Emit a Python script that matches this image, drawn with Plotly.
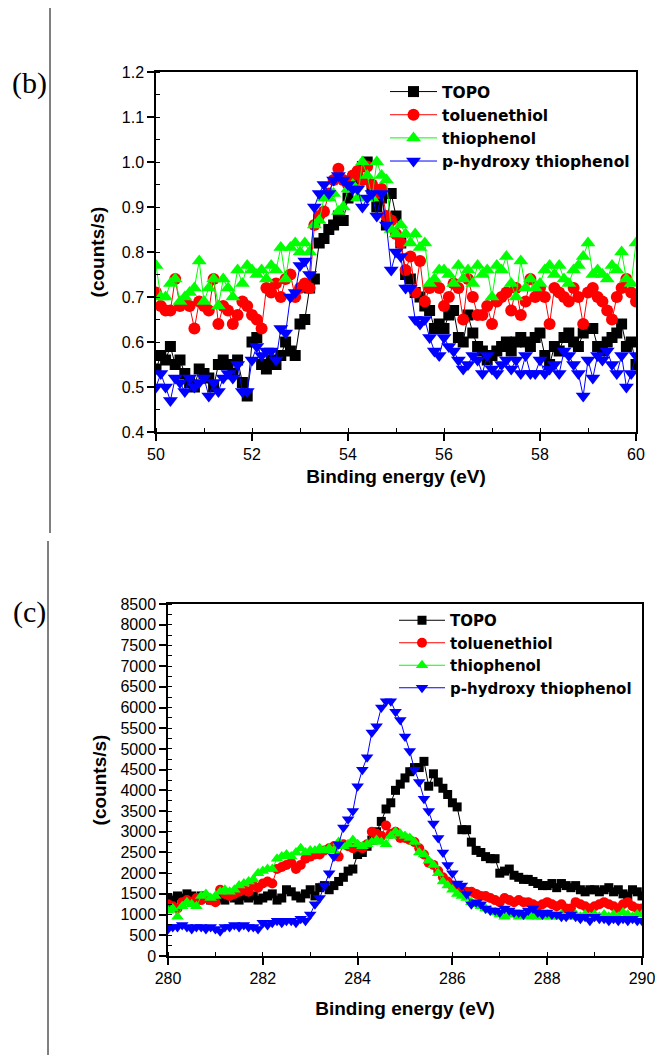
import numpy as np
import plotly.graph_objects as go

# ---------- panel (b) data: binding energy 50-60 eV ----------
energy_b = np.round(np.linspace(50.0, 60.0, 101), 1)

topo_b = [0.54, 0.57, 0.56, 0.59, 0.55, 0.56, 0.53, 0.51, 0.50, 0.54,
          0.53, 0.52, 0.50, 0.55, 0.56, 0.55, 0.53, 0.56, 0.51, 0.48,
          0.60, 0.61, 0.55, 0.54, 0.56, 0.55, 0.57, 0.60, 0.58, 0.57,
          0.64, 0.65, 0.72, 0.74, 0.82, 0.83, 0.85, 0.86, 0.88, 0.87,
          0.92, 0.95, 0.97, 0.99, 1.00, 0.94, 0.90, 0.92, 0.86, 0.93,
          0.88, 0.82, 0.75, 0.74, 0.71, 0.70, 0.68, 0.67, 0.63, 0.64,
          0.63, 0.66, 0.67, 0.61, 0.60, 0.66, 0.62, 0.59, 0.58, 0.56,
          0.57, 0.58, 0.59, 0.60, 0.58, 0.60, 0.61, 0.60, 0.59, 0.61,
          0.62, 0.57, 0.55, 0.59, 0.58, 0.61, 0.62, 0.60, 0.59, 0.62,
          0.63, 0.63, 0.59, 0.58, 0.60, 0.61, 0.62, 0.64, 0.59, 0.60,
          0.55]
toluene_b = [0.71, 0.68, 0.67, 0.67, 0.74, 0.68, 0.69, 0.68, 0.63, 0.69,
             0.68, 0.67, 0.74, 0.64, 0.68, 0.67, 0.64, 0.66, 0.69, 0.68,
             0.66, 0.65, 0.63, 0.72, 0.71, 0.73, 0.70, 0.74, 0.75, 0.70,
             0.72, 0.73, 0.72, 0.86, 0.88, 0.89, 0.93, 0.96, 0.985, 0.96,
             0.95, 0.97, 0.98, 0.96, 0.99, 0.95, 0.93, 0.94, 0.88, 0.87,
             0.84, 0.82, 0.76, 0.79, 0.71, 0.78, 0.69, 0.72, 0.73, 0.72,
             0.68, 0.70, 0.73, 0.72, 0.65, 0.74, 0.70, 0.66, 0.66, 0.68,
             0.64, 0.69, 0.70, 0.71, 0.67, 0.72, 0.66, 0.69, 0.74, 0.70,
             0.72, 0.70, 0.64, 0.72, 0.71, 0.70, 0.69, 0.72, 0.70, 0.64,
             0.71, 0.72, 0.70, 0.69, 0.67, 0.65, 0.70, 0.72, 0.74, 0.71,
             0.69]
thiophenol_b = [0.77, 0.70, 0.70, 0.73, 0.74, 0.69, 0.70, 0.71, 0.72, 0.78,
                0.69, 0.72, 0.74, 0.68, 0.74, 0.72, 0.70, 0.76, 0.73, 0.77,
                0.76, 0.75, 0.76, 0.74, 0.77, 0.76, 0.81, 0.74, 0.81, 0.82,
                0.80, 0.82, 0.80, 0.86, 0.87, 0.92, 0.92, 0.93, 0.89, 0.90,
                0.94, 0.95, 0.92, 1.00, 0.97, 0.92, 1.00, 0.97, 0.96, 0.85,
                0.84, 0.86, 0.84, 0.82, 0.84, 0.81, 0.82, 0.73, 0.74, 0.76,
                0.76, 0.75, 0.73, 0.77, 0.74, 0.76, 0.73, 0.77, 0.75, 0.76,
                0.70, 0.77, 0.76, 0.79, 0.73, 0.70, 0.78, 0.72, 0.74, 0.72,
                0.73, 0.76, 0.77, 0.75, 0.77, 0.74, 0.73, 0.76, 0.77, 0.79,
                0.82, 0.75, 0.76, 0.75, 0.74, 0.77, 0.76, 0.80, 0.74, 0.73,
                0.82]
hydroxy_b = [0.50, 0.53, 0.50, 0.47, 0.52, 0.51, 0.49, 0.52, 0.50, 0.51,
             0.52, 0.48, 0.51, 0.49, 0.52, 0.53, 0.52, 0.55, 0.49, 0.49,
             0.56, 0.59, 0.57, 0.58, 0.58, 0.56, 0.63, 0.62, 0.70, 0.71,
             0.77, 0.78, 0.75, 0.90, 0.93, 0.95, 0.93, 0.96, 0.97, 0.96,
             0.95, 0.94, 0.94, 0.90, 0.92, 0.93, 0.88, 0.93, 0.86, 0.76,
             0.80, 0.79, 0.72, 0.72, 0.65, 0.64, 0.65, 0.61, 0.58, 0.57,
             0.61, 0.59, 0.58, 0.56, 0.54, 0.55, 0.57, 0.56, 0.53, 0.57,
             0.54, 0.53, 0.55, 0.56, 0.54, 0.56, 0.53, 0.57, 0.53, 0.53,
             0.56, 0.53, 0.54, 0.55, 0.53, 0.58, 0.57, 0.55, 0.53, 0.48,
             0.56, 0.52, 0.57, 0.56, 0.58, 0.55, 0.53, 0.57, 0.50, 0.53,
             0.57]

# ---------- panel (c) data: binding energy 280-290 eV ----------
energy_c = np.round(np.linspace(280.0, 290.0, 101), 1)

topo_c = [1400, 1350, 1450, 1400, 1500, 1450, 1400, 1450, 1400, 1350,
          1350, 1400, 1350, 1450, 1400, 1350, 1450, 1400, 1450, 1350,
          1400, 1450, 1500, 1350, 1400, 1600, 1550, 1450, 1400, 1500,
          1600, 1450, 1650, 1700, 1600, 1700, 1800, 1900, 2050, 2100,
          2450, 2500, 2650, 2800, 3000, 3250, 3550, 3700, 4000, 4150,
          4300, 4450, 4550, 4550, 4700, 4100, 4400, 4200, 4050, 3900,
          3700, 3600, 3050, 3050, 2750, 2550, 2500, 2400, 2350, 2350,
          2000, 2050, 2100, 1950, 1900, 1850, 1850, 1800, 1750, 1700,
          1700, 1750, 1650, 1750, 1700, 1650, 1700, 1600, 1550, 1600,
          1600, 1550, 1600, 1650, 1550, 1600, 1500, 1450, 1600, 1550,
          1450]
toluene_c = [1250, 1200, 1150, 1300, 1350, 1300, 1400, 1350, 1400, 1350,
             1300, 1600, 1500, 1450, 1500, 1550, 1600, 1550, 1700, 1650,
             1750, 1800, 1750, 2100, 2150, 2200, 2250, 2100, 2200, 2350,
             2400, 2450, 2450, 2550, 2600, 2650, 2400, 2700, 2650, 2600,
             2650, 2600, 2700, 3000, 2950, 2900, 3150, 2950, 3000, 2850,
             2850, 2800, 2750, 2600, 2450, 2250, 2200, 2050, 1900, 1800,
             1700, 1650, 1600, 1550, 1550, 1500, 1450, 1450, 1400, 1350,
             1300, 1400, 1350, 1300, 1350, 1300, 1300, 1250, 1200, 1250,
             1300, 1250, 1200, 1250, 1150, 1150, 1300, 1250, 1200, 1150,
             1200, 1250, 1300, 1250, 1200, 1150, 1250, 1300, 1200, 1150,
             1150]
thiophenol_c = [1100, 1150, 950, 1200, 1300, 1250, 1200, 1450, 1500, 1400,
                1450, 1550, 1600, 1550, 1600, 1700, 1750, 1800, 1850, 2000,
                2050, 2100, 2100, 2350, 2400, 2450, 2400, 2500, 2600, 2500,
                2550, 2550, 2600, 2550, 2600, 2550, 2750, 2650, 2700, 2800,
                2700, 2650, 2700, 2750, 2800, 2750, 2700, 2900, 3000, 2950,
                2900, 2850, 2750, 2500, 2450, 2300, 2200, 2000, 1800, 1700,
                1600, 1500, 1450, 1400, 1300, 1250, 1200, 1150, 1100, 1050,
                1000, 950, 1000, 1000, 950, 1000, 950, 1000, 950, 950,
                1000, 950, 950, 1000, 950, 950, 1000, 950, 1000, 950,
                1000, 950, 1000, 950, 1000, 950, 1050, 1000, 950, 1000,
                1000]
hydroxy_c = [650, 700, 700, 750, 700, 650, 700, 700, 650, 700,
             650, 600, 700, 700, 750, 700, 750, 700, 700, 650,
             800, 750, 800, 850, 800, 850, 850, 800, 900, 850,
             1000, 1250, 1400, 1700, 2000, 2400, 2700, 3100, 3300, 3500,
             4100, 4500, 4800, 5400, 5550, 6000, 6150, 6150, 5900, 5700,
             5300, 4950, 4500, 4200, 3800, 3500, 3200, 2850, 2500, 2200,
             2000, 1750, 1700, 1500, 1250, 1300, 1250, 1150, 1100, 1100,
             1050, 1150, 1100, 1050, 1050, 1000, 1100, 1150, 1050, 1000,
             1050, 1000, 1000, 950, 950, 1000, 950, 900, 950, 850,
             950, 900, 900, 850, 900, 850, 900, 850, 900, 850,
             850]

names = ["TOPO", "toluenethiol", "thiophenol", "p-hydroxy thiophenol"]
colors = ["#000000", "#FF0000", "#00FF00", "#0000FF"]
symbols = ["square", "circle", "triangle-up", "triangle-down"]

W, H = 655, 1055
FONT = "Liberation Sans, Arial, sans-serif"
LEG_FONT = "DejaVu Sans, Liberation Sans, sans-serif"

fig = go.Figure()

series_b = [topo_b, toluene_b, thiophenol_b, hydroxy_b]
series_c = [topo_c, toluene_c, thiophenol_c, hydroxy_c]
sizes_b = [11, 12, 13, 13]
sizes_c = [9, 10, 11, 11]

for i in range(4):
    fig.add_trace(go.Scatter(
        x=energy_b, y=series_b[i], name=names[i], mode="lines+markers",
        line=dict(color=colors[i], width=1),
        marker=dict(symbol=symbols[i], size=sizes_b[i], color=colors[i], line=dict(width=0)),
        xaxis="x", yaxis="y", legend="legend"))
for i in range(4):
    fig.add_trace(go.Scatter(
        x=energy_c, y=series_c[i], name=names[i], mode="lines+markers",
        line=dict(color=colors[i], width=1),
        marker=dict(symbol=symbols[i], size=sizes_c[i], color=colors[i], line=dict(width=0)),
        xaxis="x2", yaxis="y2", legend="legend2"))

def px_x(p):
    return p / W

def px_y(p):
    return 1 - p / H

axis_common = dict(
    showline=True, linecolor="black", linewidth=1.5, mirror=True,
    ticks="outside", ticklen=7, tickwidth=1.5, tickcolor="black",
    showgrid=False, zeroline=False, ticklabeloverflow="allow",
    tickfont=dict(family=FONT, size=16, color="black"),
)
title_font = dict(family=FONT, size=19, color="black", weight="bold")
minor_common = dict(ticks="inside", ticklen=4, tickcolor="black", tickwidth=1)

fig.update_layout(
    width=W, height=H,
    margin=dict(l=0, r=0, t=0, b=0, autoexpand=False),
    paper_bgcolor="white", plot_bgcolor="white",
    xaxis=dict(domain=[px_x(156), px_x(636)], range=[50, 60], tick0=50, dtick=2,
               anchor="y", minor=dict(dtick=1, **minor_common),
               title=dict(text="Binding energy (eV)", font=title_font, standoff=8),
               **axis_common),
    yaxis=dict(domain=[px_y(432), px_y(72)], range=[0.4, 1.2], tick0=0.4, dtick=0.1,
               tickformat=".1f", anchor="x", minor=dict(dtick=0.05, **minor_common),
               title=dict(text="(counts/s)", font=title_font, standoff=12),
               **axis_common),
    xaxis2=dict(domain=[px_x(168), px_x(642)], range=[280, 290], tick0=280, dtick=2,
                anchor="y2", minor=dict(dtick=1, **minor_common),
                title=dict(text="Binding energy (eV)", font=title_font, standoff=16),
                **axis_common),
    yaxis2=dict(domain=[px_y(956), px_y(604)], range=[0, 8500], tick0=0, dtick=500,
                anchor="x2", minor=dict(dtick=250, **minor_common),
                title=dict(text="(counts/s)", font=title_font, standoff=9),
                **axis_common),
    legend=dict(x=px_x(385), y=px_y(75), xanchor="left", yanchor="top",
                bgcolor="rgba(0,0,0,0)", borderwidth=0, itemwidth=47,
                tracegroupgap=0,
                font=dict(family=LEG_FONT, size=15.5, color="black", weight="bold")),
    legend2=dict(x=px_x(394), y=px_y(604), xanchor="left", yanchor="top",
                 bgcolor="rgba(0,0,0,0)", borderwidth=0, itemwidth=46,
                 tracegroupgap=0,
                 font=dict(family=LEG_FONT, size=15, color="black", weight="bold")),
    showlegend=True,
)

# panel separators and labels
fig.add_shape(type="line", xref="paper", yref="paper",
              x0=px_x(50), x1=px_x(50), y0=px_y(8), y1=px_y(533),
              line=dict(color="black", width=1))
fig.add_shape(type="line", xref="paper", yref="paper",
              x0=px_x(48), x1=px_x(48), y0=px_y(541), y1=px_y(1055),
              line=dict(color="black", width=1))
serif = dict(family="Liberation Serif, Times New Roman, serif", size=30, color="black")
fig.add_annotation(text="(b)", xref="paper", yref="paper", x=px_x(29), y=px_y(83),
                   showarrow=False, xanchor="center", yanchor="middle", font=serif)
fig.add_annotation(text="(c)", xref="paper", yref="paper", x=px_x(29), y=px_y(612),
                   showarrow=False, xanchor="center", yanchor="middle", font=serif)

fig.write_html(
    "out.html",
    config={"displayModeBar": False},
    post_script="document.documentElement.style.margin='0';"
                "document.body.style.margin='0';"
                "document.body.style.overflow='hidden';",
)
